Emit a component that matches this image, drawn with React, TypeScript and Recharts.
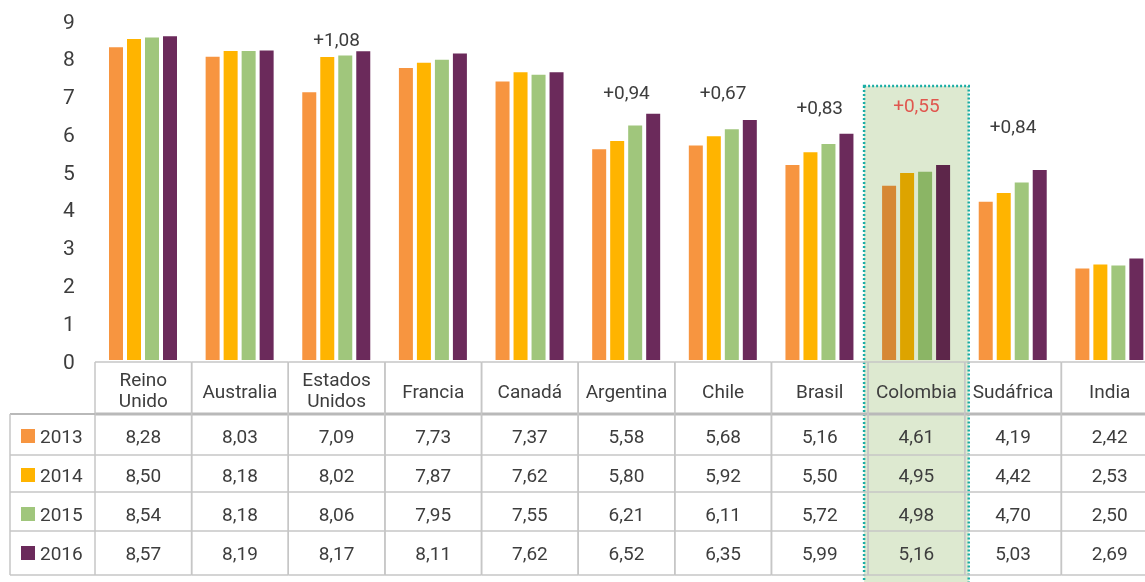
import React from 'react';
import { BarChart, Bar, XAxis, YAxis, Cell, ReferenceArea, ReferenceDot } from 'recharts';

const categories = ['Reino Unido', 'Australia', 'Estados Unidos', 'Francia', 'Canadá', 'Argentina', 'Chile', 'Brasil', 'Colombia', 'Sudáfrica', 'India'];
const years = ['2013', '2014', '2015', '2016'];
const values2013 = [8.28, 8.03, 7.09, 7.73, 7.37, 5.58, 5.68, 5.16, 4.61, 4.19, 2.42];
const values2014 = [8.50, 8.18, 8.02, 7.87, 7.62, 5.80, 5.92, 5.50, 4.95, 4.42, 2.53];
const values2015 = [8.54, 8.18, 8.06, 7.95, 7.55, 6.21, 6.11, 5.72, 4.98, 4.70, 2.50];
const values2016 = [8.57, 8.19, 8.17, 8.11, 7.62, 6.52, 6.35, 5.99, 5.16, 5.03, 2.69];
const changeLabels = ['', '', '+1,08', '', '', '+0,94', '+0,67', '+0,83', '+0,55', '+0,84', ''];
const changeLabelLevels = [null, null, 8.5, null, null, 7.1, 7.1, 6.68, 6.75, 6.2, null];
const highlighted = 'Colombia';
const highlightTop = 7.25;
const yTicks = [0, 1, 2, 3, 4, 5, 6, 7, 8, 9];

const series = [values2013, values2014, values2015, values2016];
const COLORS = ['#F79540', '#FFB400', '#A0C67C', '#6B2A5B'];
const HIGHLIGHT_BG = '#DDE9D0';
const FONT = 'Roboto, sans-serif';
const TEXT = '#3d3d3d';
const RED = '#E0574F';
const LINE = '#c6c6c6';

const WIDTH = 1158;
const HEIGHT = 582;
const TOP = 20;
const AXIS_H = 222;
const Y_AXIS_W = 95;
const BAND = (WIDTH - Y_AXIS_W) / categories.length;

const HEADER_TOP = 362;
const HEADER_BOTTOM = 414;
const ROW_BOTTOMS = [455, 492, 531, 575];
const ROW_CENTERS = [436, 475, 514, 553];
const LEFT_COL_X = 10;

const data = categories.map((name, i) => {
  const row: Record<string, any> = { name };
  years.forEach((y, k) => { row['y' + y] = series[k][i]; });
  return row;
});

const fmt = (v: number) => v.toFixed(2).replace('.', ',');

// multiply blend of two hex colours (bars seen through the highlight tint)
function multiply(a: string, b: string) {
  const pa = [1, 3, 5].map((o) => parseInt(a.slice(o, o + 2), 16));
  const pb = [1, 3, 5].map((o) => parseInt(b.slice(o, o + 2), 16));
  return '#' + pa.map((v, j) => Math.round((v * pb[j]) / 255).toString(16).padStart(2, '0')).join('');
}

function YTick(props: any) {
  const { y, payload } = props;
  return (
    <text x={69} y={y + 1.5} textAnchor="middle" dominantBaseline="central" fontSize={21} fill={TEXT} fontFamily={FONT}>
      {payload.value}
    </text>
  );
}

function TableTick(props: any) {
  const { x, payload, index } = props;
  const name = String(payload.value);
  const i = categories.indexOf(name);
  const left = x - BAND / 2;
  const right = x + BAND / 2;
  const words = name.split(' ');
  return (
    <g>
      <line x1={left} x2={right} y1={HEADER_TOP} y2={HEADER_TOP} stroke={LINE} strokeWidth={1.5} />
      <line x1={left} x2={right} y1={HEADER_BOTTOM} y2={HEADER_BOTTOM} stroke="#b9b9b9" strokeWidth={3} />
      {ROW_BOTTOMS.map((yy) => (
        <line key={yy} x1={left} x2={right} y1={yy} y2={yy} stroke={LINE} strokeWidth={1.5} />
      ))}
      <line x1={left} x2={left} y1={HEADER_TOP} y2={ROW_BOTTOMS[3]} stroke={LINE} strokeWidth={1.5} />
      <line x1={right} x2={right} y1={HEADER_TOP} y2={ROW_BOTTOMS[3]} stroke={LINE} strokeWidth={1.5} />
      {words.length > 1 ? (
        <>
          <text x={x} y={379} textAnchor="middle" dominantBaseline="central" fontSize={19} fill={TEXT} fontFamily={FONT}>{words[0]}</text>
          <text x={x} y={400} textAnchor="middle" dominantBaseline="central" fontSize={19} fill={TEXT} fontFamily={FONT}>{words.slice(1).join(' ')}</text>
        </>
      ) : (
        <text x={x} y={391} textAnchor="middle" dominantBaseline="central" fontSize={19} fill={TEXT} fontFamily={FONT}>{name}</text>
      )}
      {series.map((s, k) => (
        <text key={k} x={x} y={ROW_CENTERS[k]} textAnchor="middle" dominantBaseline="central" fontSize={19} fill={TEXT} fontFamily={FONT}>
          {i >= 0 ? fmt(s[i]) : ''}
        </text>
      ))}
      {index === 0 && (
        <g>
          <line x1={LEFT_COL_X} x2={left} y1={HEADER_BOTTOM} y2={HEADER_BOTTOM} stroke="#b9b9b9" strokeWidth={2} />
          {ROW_BOTTOMS.map((yy) => (
            <line key={yy} x1={LEFT_COL_X} x2={left} y1={yy} y2={yy} stroke={LINE} strokeWidth={1.5} />
          ))}
          <line x1={LEFT_COL_X} x2={LEFT_COL_X} y1={HEADER_BOTTOM} y2={ROW_BOTTOMS[3]} stroke={LINE} strokeWidth={1.5} />
          {years.map((yr, k) => (
            <g key={yr}>
              <rect x={21} y={ROW_CENTERS[k] - 7} width={14} height={14} fill={COLORS[k]} />
              <text x={40} y={ROW_CENTERS[k]} dominantBaseline="central" fontSize={19} fill={TEXT} fontFamily={FONT}>{yr}</text>
            </g>
          ))}
        </g>
      )}
    </g>
  );
}

function HighlightShape(props: any) {
  const { x, y, width, height } = props;
  const pad = 4;
  return (
    <g>
      <rect x={x - pad} y={y} width={width + pad * 2} height={height} fill={HIGHLIGHT_BG} style={{ mixBlendMode: 'multiply' }} />
      <rect x={x - pad} y={y} width={width + pad * 2} height={height} fill="none" stroke="#1AADA5" strokeWidth={2.5} strokeDasharray="2 2" />
    </g>
  );
}

export default function App() {
  return (
    <div style={{ position: 'fixed', left: 0, top: 0, width: 1145, height: 582, overflow: 'hidden', background: '#fff', fontFamily: FONT }}>
      <BarChart
        width={WIDTH}
        height={HEIGHT}
        data={data}
        margin={{ top: TOP, right: 0, bottom: 0, left: 0 }}
        barGap={4}
        barSize={14}
      >
        <XAxis dataKey="name" axisLine={false} tickLine={false} height={AXIS_H} interval={0} tick={<TableTick />} />
        <YAxis domain={[0, 9]} ticks={yTicks} axisLine={false} tickLine={false} width={Y_AXIS_W} interval={0} tick={<YTick />} />
        <ReferenceArea
          x1={highlighted}
          x2={highlighted}
          y1={-7}
          y2={highlightTop}
          ifOverflow="visible"
          shape={<HighlightShape />}
        />
        {years.map((yr, k) => (
          <Bar key={yr} dataKey={'y' + yr} fill={COLORS[k]} isAnimationActive={false}>
            {categories.map((c) => (
              <Cell key={c} fill={c === highlighted ? multiply(COLORS[k], HIGHLIGHT_BG) : COLORS[k]} />
            ))}
          </Bar>
        ))}
        {categories.map((c, i) =>
          changeLabels[i] ? (
            <ReferenceDot
              key={c}
              x={c}
              y={changeLabelLevels[i] as number}
              r={0}
              fill="none"
              stroke="none"
              ifOverflow="visible"
              label={{ value: changeLabels[i], position: 'center', fill: c === highlighted ? RED : TEXT, fontSize: 19, fontFamily: FONT }}
            />
          ) : null
        )}
      </BarChart>
    </div>
  );
}
